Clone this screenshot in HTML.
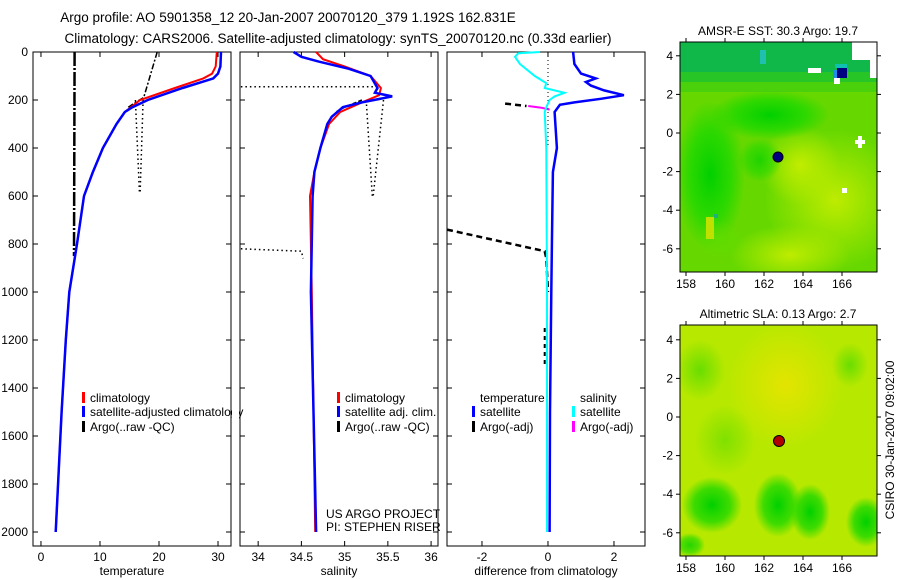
<!DOCTYPE html>
<html><head><meta charset="utf-8"><style>
html,body{margin:0;padding:0;background:#fff;}
svg{display:block;font-family:"Liberation Sans",sans-serif;}
text{font-size:12px;fill:#000;}
</style></head><body>
<svg id="fig" width="900" height="580" viewBox="0 0 900 580">
<defs>
<radialGradient id="g1" cx="50%" cy="50%" r="50%"><stop offset="0" stop-color="#00d000" stop-opacity="1"/><stop offset="0.6" stop-color="#20d800" stop-opacity="0.8"/><stop offset="1" stop-color="#20d800" stop-opacity="0"/></radialGradient>
<radialGradient id="g2" cx="50%" cy="50%" r="50%"><stop offset="0" stop-color="#60dc00" stop-opacity="0.9"/><stop offset="1" stop-color="#60dc00" stop-opacity="0"/></radialGradient>
<radialGradient id="y1" cx="50%" cy="50%" r="50%"><stop offset="0" stop-color="#c8ee00" stop-opacity="0.9"/><stop offset="1" stop-color="#c8ee00" stop-opacity="0"/></radialGradient>
<radialGradient id="o1" cx="50%" cy="50%" r="50%"><stop offset="0" stop-color="#e8e400" stop-opacity="0.9"/><stop offset="1" stop-color="#e8e400" stop-opacity="0"/></radialGradient>
<clipPath id="cm1"><rect x="680" y="42" width="197" height="230"/></clipPath>
<clipPath id="cm2"><rect x="680" y="325" width="197" height="231"/></clipPath>
</defs>
<text x="288" y="22" text-anchor="middle" style="font-size:13.5px">Argo profile: AO 5901358_12 20-Jan-2007 20070120_379 1.192S 162.831E</text>
<text x="338" y="43" text-anchor="middle" style="font-size:13.5px">Climatology: CARS2006. Satellite-adjusted climatology: synTS_20070120.nc (0.33d earlier)</text>
<g id="p1"></g>
<g id="p2"></g>
<g id="p3"></g>

<g>
<text x="778" y="35" text-anchor="middle" font-size="11">AMSR-E SST: 30.3 Argo: 19.7</text>
<g clip-path="url(#cm1)">
<rect x="680" y="42" width="197" height="230" fill="#66d800"/>
<ellipse cx="835" cy="200" rx="70" ry="70" fill="url(#y1)"/>
<ellipse cx="790" cy="255" rx="60" ry="30" fill="url(#y1)"/>
<ellipse cx="800" cy="165" rx="40" ry="40" fill="url(#y1)"/>
<ellipse cx="710" cy="175" rx="35" ry="75" fill="url(#g1)"/>
<ellipse cx="770" cy="115" rx="60" ry="25" fill="url(#g1)"/>
<ellipse cx="760" cy="160" rx="22" ry="22" fill="url(#g1)" opacity="0.7"/>
<ellipse cx="720" cy="240" rx="25" ry="20" fill="url(#g2)"/>
<rect x="680" y="42" width="197" height="30" fill="#10b84a"/>
<rect x="680" y="72" width="197" height="10" fill="#18c030" opacity="0.8"/>
<rect x="680" y="82" width="197" height="10" fill="#30c818" opacity="0.5"/>
<rect x="760" y="50" width="6" height="14" fill="#20c0b0"/>
<rect x="808" y="68" width="13" height="5" fill="#fff"/>
<rect x="837" y="68" width="10" height="10" fill="#000080"/>
<rect x="833" y="70" width="4" height="8" fill="#2090f0"/>
<rect x="835" y="64" width="12" height="4" fill="#10c0b0"/>
<rect x="852" y="42" width="25" height="18" fill="#fff"/>
<rect x="870" y="60" width="7" height="18" fill="#fff"/>
<rect x="834" y="78" width="6" height="6" fill="#fff"/>
<rect x="855" y="140" width="10" height="4" fill="#fff"/><rect x="858" y="136" width="4" height="12" fill="#fff"/>
<rect x="842" y="188" width="5" height="5" fill="#fff"/>
<rect x="706" y="217" width="8" height="22" fill="#c0e000"/>
<rect x="714" y="214" width="4" height="4" fill="#20b080"/>
</g>
<rect x="680" y="42" width="197" height="230" fill="none" stroke="#000"/>
<circle cx="778" cy="157" r="5" fill="#000080" stroke="#000"/>
<g id="m1ax"></g>
</g>

<g>
<text x="778" y="318" text-anchor="middle" font-size="11">Altimetric SLA: 0.13 Argo: 2.7</text>
<g clip-path="url(#cm2)">
<rect x="680" y="325" width="197" height="231" fill="#b6e800"/>
<ellipse cx="785" cy="385" rx="60" ry="65" fill="url(#o1)"/>
<ellipse cx="700" cy="370" rx="25" ry="30" fill="url(#g2)"/>
<ellipse cx="850" cy="365" rx="18" ry="22" fill="url(#g2)"/>
<ellipse cx="725" cy="440" rx="30" ry="35" fill="url(#g2)" opacity="0.7"/>
<ellipse cx="712" cy="505" rx="30" ry="28" fill="url(#g1)"/>
<ellipse cx="778" cy="505" rx="24" ry="32" fill="url(#g1)"/>
<ellipse cx="810" cy="512" rx="20" ry="28" fill="url(#g1)"/>
<ellipse cx="866" cy="522" rx="20" ry="25" fill="url(#g1)"/>
<ellipse cx="690" cy="545" rx="15" ry="12" fill="url(#g1)" opacity="0.8"/>
</g>
<rect x="680" y="325" width="197" height="231" fill="none" stroke="#000"/>
<circle cx="779" cy="441" r="5.5" fill="#b00000" stroke="#000"/>
<g id="m2ax"></g>
<text transform="translate(894,440) rotate(-90)" text-anchor="middle">CSIRO 30-Jan-2007 09:02:00</text>
</g>
</svg>
<script>
// ---- data ----
const depthTicks=[0,200,400,600,800,1000,1200,1400,1600,1800,2000];
const tempTicks=[0,10,20,30];
const salTicks=[34,34.5,35,35.5,36];
const salTickLabels=["34","34.5","35","35.5","36"];
const diffTicks=[-2,0,2];
const climTempDepth=[0,60,90,110,150,200,250,300,400,500,600,800,1000,1200,1500,2000];
const climTempVal=[29.8,29.6,29,27.5,22.7,16.8,14.2,12.8,10.5,8.8,7.3,6.1,4.8,4.2,3.5,2.5];
const satTempDepth=[0,60,90,110,150,200,230,250,300,400,500,600,800,1000,1200,1500,2000];
const satTempVal=[30.5,30.4,30,29.2,24,18.1,15.5,14.2,12.8,10.5,8.8,7.3,6.1,4.8,4.2,3.5,2.5];
const argoTempDepth=[0,100,190,210,230];
const argoTempVal=[19.7,18.5,17.4,16,14.8];
const argoTempDepth2=[0,850];
const argoTempVal2=[5.7,5.6];
const argoTempDotA_D=[200,590];const argoTempDotA_V=[16,16.7];
const argoTempDotB_D=[200,590];const argoTempDotB_V=[17.3,16.8];
const climSalDepth=[0,30,60,100,150,180,210,250,300,400,500,600,1000,2000];
const climSalVal=[34.67,34.75,35.0,35.3,35.42,35.4,35.2,34.95,34.82,34.72,34.65,34.6,34.62,34.66];
const satSalDepth=[0,20,40,70,100,150,170,185,210,230,270,300,400,500,600,1000,2000];
const satSalVal=[34.41,34.5,34.7,35.05,35.3,35.38,35.35,35.55,35.2,34.98,34.85,34.8,34.72,34.65,34.63,34.61,34.67];
const argoSalH1_D=[145,145];const argoSalH1_V=[33.8,35.4];
const argoSalDotA_D=[200,600];const argoSalDotA_V=[35.25,35.32];
const argoSalDotB_D=[200,600];const argoSalDotB_V=[35.45,35.33];
const argoSalH2_D=[820,830,860];const argoSalH2_V=[33.8,34.5,34.52];
const argoSalDash_D=[200,230,250];const argoSalDash_V=[35.2,35.0,34.9];
const difTempDepth=[0,50,90,110,125,140,160,180,195,210,220,250,400,500,800,1000,1500,2000];
const difTempVal=[0.76,0.8,1.0,1.45,1.15,1.3,1.7,2.3,1.6,0.8,0.36,0.2,0.27,0.15,0.12,0.1,0.06,0.05];
const difSalDepth=[0,5,20,50,100,130,150,170,185,200,230,250,400,1000,2000];
const difSalVal=[-0.24,-0.9,-1.0,-0.85,-0.4,-0.05,-0.1,0.5,0.2,0.05,-0.05,-0.1,-0.05,-0.03,-0.03];
const argoDifT1_D=[215,225];const argoDifT1_V=[-1.3,-0.65];
const argoDifS1_D=[225,232,240];const argoDifS1_V=[-0.6,-0.2,0.05];
const argoDifT2_D=[740,830,860,1000];const argoDifT2_V=[-3.06,-0.1,-0.05,0];
const argoDifT3_D=[1150,1300];const argoDifT3_V=[-0.1,-0.1];
const zeroLineD=[0,400];const zeroLineV=[0,0];
const lonTicks=[158,160,162,164,166];
const latTicks=[4,2,0,-2,-4,-6];

// ---- geometry ----
const NS='http://www.w3.org/2000/svg';
const Y0=52,Y1=546;
const y=d=>Y0+d*0.24;
function mk(tag,attrs,parent){const e=document.createElementNS(NS,tag);for(const k in attrs)e.setAttribute(k,attrs[k]);parent.appendChild(e);return e;}
function panel(g,x0,x1,vmin,vmax){
  const sx=v=>x0+(v-vmin)/(vmax-vmin)*(x1-x0);
  const fr=mk('rect',{x:x0,y:Y0,width:x1-x0,height:Y1-Y0,fill:'none',stroke:'#000'},g);
  
  
  for(const d of depthTicks){mk('line',{x1:x0,x2:x0+5,y1:y(d),y2:y(d),stroke:'#000'},g);mk('line',{x1:x1,x2:x1-5,y1:y(d),y2:y(d),stroke:'#000'},g);}
  return sx;
}
function line(g,sx,D,V,color,w,dash,name){
  const p=D.map((d,i)=>sx(V[i]).toFixed(1)+','+y(d).toFixed(1)).join(' ');
  const e=mk('polyline',{points:p,fill:'none',stroke:color,'stroke-width':w},g);
  if(dash)e.setAttribute('stroke-dasharray',dash);
  
  
}
function xticks(g,sx,ticks,labels){
  ticks.forEach((t,i)=>{const X=sx(t);mk('line',{x1:X,x2:X,y1:Y1,y2:Y1-5,stroke:'#000'},g);mk('line',{x1:X,x2:X,y1:Y0,y2:Y0+5,stroke:'#000'},g);
    const tx=mk('text',{x:X,y:Y1+15,'text-anchor':'middle'},g);tx.textContent=labels[i];
    
    });
}
function txt(g,x,yy,s,name,anchor){const t=mk('text',{x:x,y:yy,'text-anchor':anchor||'start'},g);t.textContent=s;
  
  return t;}
function leg(g,x,yy,color,s,name){if(color){mk('rect',{x:x,y:yy-10,width:3,height:11,fill:color},g);}
  txt(g,x+8,yy,s,name);}

// panel 1
const g1=document.getElementById('p1');
const sT=panel(g1,33,231,-1.35,32.2);
depthTicks.forEach(d=>{txt(g1,28,y(d)+4,String(d),'y-tick-label','end');});
xticks(g1,sT,tempTicks,tempTicks.map(String));
line(g1,sT,argoTempDotA_D,argoTempDotA_V,'#000',1.5,'1.5 3','argo-temp-dotted-a');
line(g1,sT,argoTempDotB_D,argoTempDotB_V,'#000',1.5,'1.5 3','argo-temp-dotted-b');
line(g1,sT,argoTempDepth2,argoTempVal2,'#000',2.5,'14 2 2 2','argo-temp-raw-vertical');
line(g1,sT,argoTempDepth,argoTempVal,'#000',1.5,'6 2 2 2','argo-temp-raw');
line(g1,sT,climTempDepth,climTempVal,'#f00',2,null,'climatology-temp-line');
line(g1,sT,satTempDepth,satTempVal,'#00f',2.5,null,'satellite-temp-line');
txt(g1,132,575,'temperature','x-axis-title','middle');
leg(g1,82,402,'#f00','climatology','legend-climatology');
leg(g1,82,416,'#00f','satellite-adjusted climatology','legend-satellite');
leg(g1,82,431,'#000','Argo(..raw -QC)','legend-argo');
mk('rect',{x:232,y:390,width:7,height:50,fill:'#fff'},g1);

// panel 2
const g2=document.getElementById('p2');
const sS=panel(g2,240,438,33.79,36.08);
xticks(g2,sS,salTicks,salTickLabels);
line(g2,sS,argoSalH1_D,argoSalH1_V,'#000',1.5,'1.5 3','argo-sal-dotted-top');
line(g2,sS,argoSalDotA_D,argoSalDotA_V,'#000',1.5,'1.5 3','argo-sal-dotted-a');
line(g2,sS,argoSalDotB_D,argoSalDotB_V,'#000',1.5,'1.5 3','argo-sal-dotted-b');
line(g2,sS,argoSalH2_D,argoSalH2_V,'#000',1.5,'1.5 3','argo-sal-dotted-deep');
line(g2,sS,argoSalDash_D,argoSalDash_V,'#000',1.5,'4 2','argo-sal-raw');
line(g2,sS,climSalDepth,climSalVal,'#f00',2,null,'climatology-sal-line');
line(g2,sS,satSalDepth,satSalVal,'#00f',2.5,null,'satellite-sal-line');
txt(g2,339,575,'salinity','x-axis-title','middle');
leg(g2,337,402,'#f00','climatology','legend-climatology');
leg(g2,337,416,'#00f','satellite adj. clim.','legend-satellite');
leg(g2,337,431,'#000','Argo(..raw -QC)','legend-argo');
txt(g2,326,518,'US ARGO PROJECT','project-label');
txt(g2,326,531,'PI: STEPHEN RISER','pi-label');

// panel 3
const g3=document.getElementById('p3');
const sD=panel(g3,447,645,-3.06,2.94);
xticks(g3,sD,diffTicks,diffTicks.map(String));
line(g3,sD,zeroLineD,zeroLineV,'#000',1,'1 3','zero-reference-line');
line(g3,sD,argoDifT2_D,argoDifT2_V,'#000',2.5,'6 4','argo-temp-diff-deep');
line(g3,sD,argoDifT3_D,argoDifT3_V,'#000',2,'4 4','argo-temp-diff-mid');
line(g3,sD,argoDifT1_D,argoDifT1_V,'#000',2.5,'6 4','argo-temp-diff');
line(g3,sD,argoDifS1_D,argoDifS1_V,'#f0f',2,null,'argo-sal-diff');
line(g3,sD,difTempDepth,difTempVal,'#00f',2.5,null,'satellite-temp-diff-line');
line(g3,sD,difSalDepth,difSalVal,'#0ff',2,null,'satellite-sal-diff-line');
txt(g3,546,575,'difference from climatology','x-axis-title','middle');
txt(g3,480,402,'temperature','legend-temperature-heading');
leg(g3,472,416,'#00f','satellite','legend-temp-satellite');
leg(g3,472,431,'#000','Argo(-adj)','legend-temp-argo');
txt(g3,580,402,'salinity','legend-salinity-heading');
leg(g3,572,416,'#0ff','satellite','legend-sal-satellite');
leg(g3,572,431,'#f0f','Argo(-adj)','legend-sal-argo');

// map axes
function mapAxes(id,top,bot,lat0y,pxLat){
  const g=document.getElementById(id);
  const lx=v=>686+(v-158)*19.5;
  const ly=v=>lat0y-v*pxLat;
  lonTicks.forEach(t=>{const X=lx(t);mk('line',{x1:X,x2:X,y1:bot,y2:bot+4,stroke:'#000'},g);mk('line',{x1:X,x2:X,y1:top,y2:top-4,stroke:'#000'},g);
    const tx=mk('text',{x:X,y:bot+16,'text-anchor':'middle'},g);tx.textContent=String(t);
    
    });
  latTicks.forEach(t=>{const Y=ly(t);mk('line',{x1:676,x2:680,y1:Y,y2:Y,stroke:'#000'},g);mk('line',{x1:877,x2:881,y1:Y,y2:Y,stroke:'#000'},g);
    const tx=mk('text',{x:673,y:Y+4,'text-anchor':'end'},g);tx.textContent=String(t);
    
    });
}
mapAxes('m1ax',42,272,133,19.3);
mapAxes('m2ax',325,556,417,19.3);
</script>
</body></html>
